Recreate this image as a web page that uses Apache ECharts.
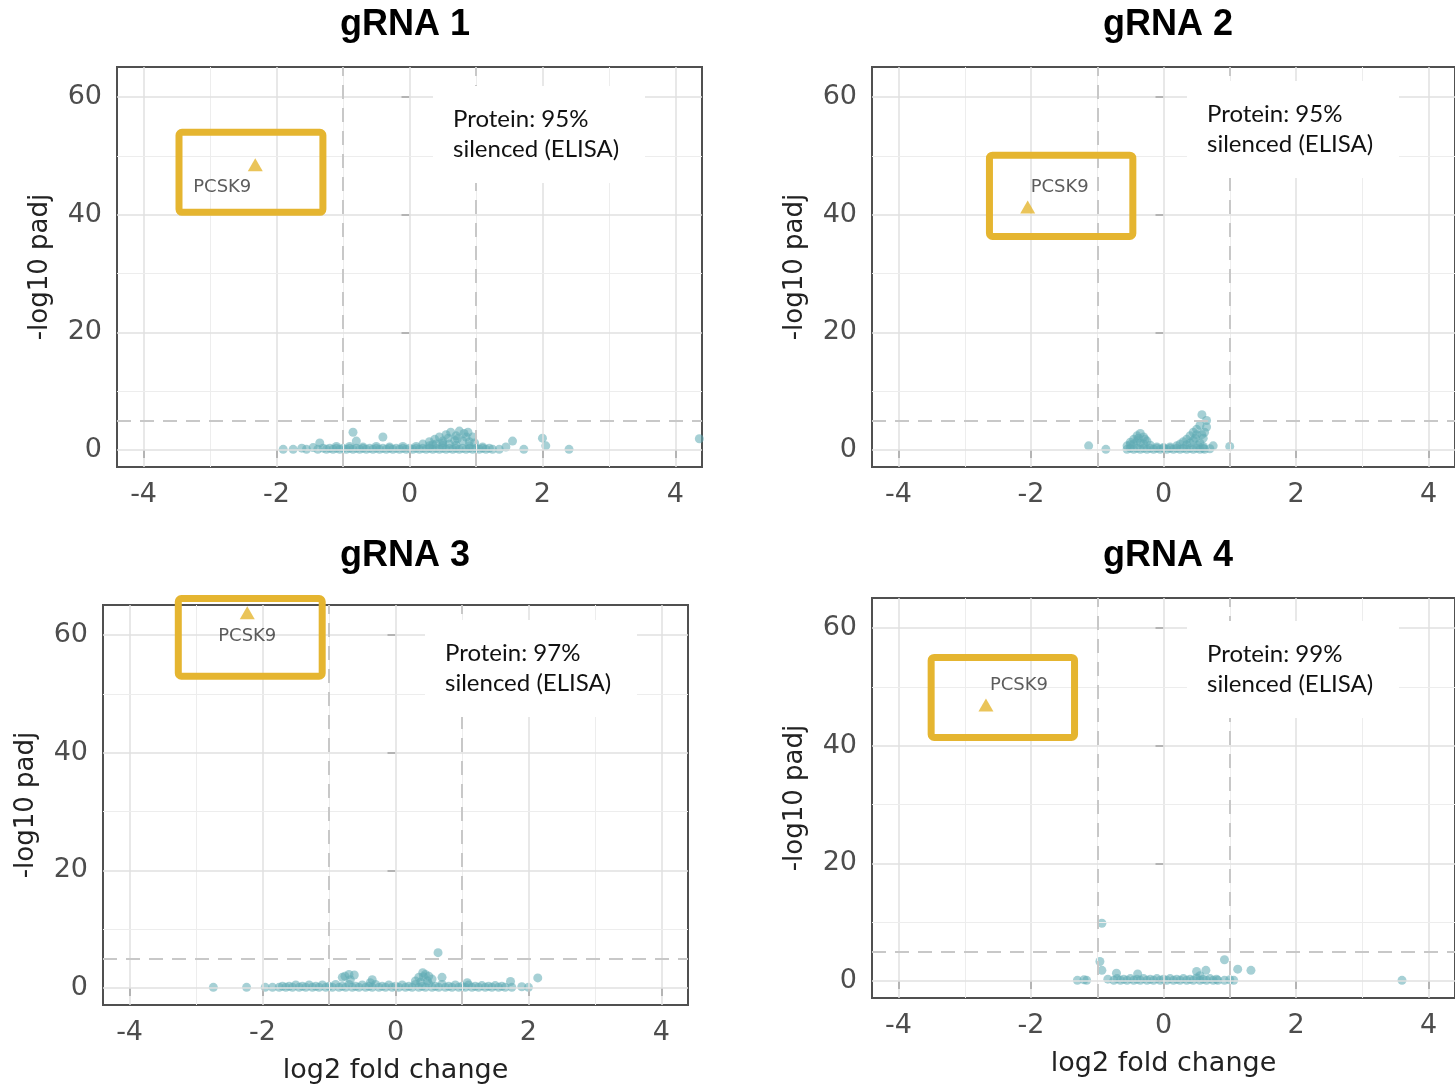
<!DOCTYPE html>
<html>
<head>
<meta charset="utf-8">
<script src="https://cdn.jsdelivr.net/npm/echarts@6/dist/echarts.min.js"></script>
<style>
  html, body { margin: 0; padding: 0; background: #fff; }
  #chart { width: 1455px; height: 1085px; }
</style>
</head>
<body>
<div id="chart"></div>
<script>
// ---- data ----
const panelTitles = ['gRNA 1', 'gRNA 2', 'gRNA 3', 'gRNA 4']
const proteinSilenced = ['95%', '95%', '97%', '99%']
const xTicks = [-4, -2, 0, 2, 4]
const yTicks = [0, 20, 40, 60]
const xGridValues = [-4, -3, -2, -1, 0, 1, 2, 3, 4]
const yGridValues = [0, 10, 20, 30, 40, 50, 60]
const lfcCutoffs = [-1, 1]
const padjCutoff = 5

// PCSK9 point per panel [log2FC, -log10 padj]
const pcsk9 = [[-2.32, 48.5], [-2.05, 41.3], [-2.23, 63.8], [-2.68, 46.9]]

// highlight boxes around PCSK9, data-space corners [x0, y0], [x1, y1]
const highlightBoxes = [
  [[-3.52, 54.6], [-1.25, 39.8]],
  [[-2.68, 50.7], [-0.41, 35.7]],
  [[-3.32, 66.8], [-1.05, 52.4]],
  [[-3.56, 55.6], [-1.29, 40.8]]
]

const g1Genes = [
  [-1.9, 0.1], [-1.75, 0.1], [-1.62, 0.3], [-1.55, 0.1], [-1.45, 0.4], [-1.38, 0.1], [-1.35, 1.2], [-1.3, 0.3],
  [-1.25, 0.1], [-1.15, 0.1], [-1.05, 0.1], [-0.95, 0.1], [-0.85, 0.1], [-0.75, 0.1], [-0.65, 0.1], [-0.55, 0.1],
  [-0.45, 0.1], [-0.35, 0.1], [-0.25, 0.1], [-0.15, 0.1], [-0.05, 0.1], [0.05, 0.1], [0.15, 0.1], [0.25, 0.1],
  [0.35, 0.1], [0.45, 0.1], [0.55, 0.1], [0.65, 0.1], [0.75, 0.1], [0.85, 0.1], [0.95, 0.1], [1.05, 0.1],
  [1.15, 0.1], [1.25, 0.1], [1.35, 0.1],
  [-1.2, 0.3], [-1.1, 0.3], [-1.0, 0.3], [-0.9, 0.3], [-0.8, 0.3], [-0.7, 0.3], [-0.6, 0.3], [-0.5, 0.3],
  [-0.4, 0.3], [-0.3, 0.3], [-0.2, 0.3], [-0.1, 0.3], [0.0, 0.3], [0.1, 0.3], [0.2, 0.3], [0.3, 0.3],
  [0.4, 0.3], [0.5, 0.3], [0.6, 0.3], [0.7, 0.3], [0.8, 0.3], [0.9, 0.3], [1.0, 0.3], [1.1, 0.3], [1.2, 0.3],
  [-1.1, 0.6], [-0.9, 0.6], [-0.7, 0.5], [-0.5, 0.6], [-0.3, 0.5], [-0.1, 0.6], [0.1, 0.6], [0.3, 0.7],
  [0.5, 0.8], [0.7, 0.8], [0.9, 0.7], [1.1, 0.5],
  [0.2, 1.0], [0.3, 1.4], [0.38, 1.8], [0.45, 2.2], [0.5, 1.5], [0.55, 2.6], [0.62, 3.0], [0.7, 2.4],
  [0.75, 3.2], [0.82, 2.8], [0.88, 3.0], [0.95, 2.2], [0.98, 1.2], [0.6, 1.0], [0.8, 1.5], [0.4, 1.0],
  [0.5, 1.2], [0.68, 1.6], [0.72, 1.9], [0.9, 1.4], [0.35, 0.9], [0.58, 2.0], [0.85, 2.2],
  [-0.85, 3.0], [-0.8, 1.5], [-0.4, 2.2], [1.55, 1.5], [2.0, 2.0], [2.05, 0.7], [1.72, 0.1], [2.4, 0.1],
  [1.45, 0.5], [4.36, 1.9]
]

const g2Genes = [
  [-0.55, 0.1], [-0.45, 0.1], [-0.35, 0.1], [-0.25, 0.1], [-0.15, 0.1], [-0.05, 0.1], [0.05, 0.1], [0.15, 0.1],
  [0.25, 0.1], [0.35, 0.1], [0.45, 0.1], [0.55, 0.1], [0.62, 0.1],
  [-0.5, 0.3], [-0.4, 0.3], [-0.3, 0.3], [-0.2, 0.3], [-0.1, 0.3], [0.0, 0.3], [0.1, 0.3], [0.2, 0.3],
  [0.3, 0.3], [0.4, 0.3], [0.5, 0.3], [0.6, 0.3],
  [-0.55, 0.7], [-0.5, 1.3], [-0.45, 1.8], [-0.4, 2.4], [-0.35, 2.8], [-0.3, 2.2], [-0.25, 1.5], [-0.2, 0.8],
  [-0.45, 1.0], [-0.35, 1.2], [-0.5, 0.9], [-0.4, 1.5], [-0.3, 1.0], [-0.38, 2.0], [-0.28, 1.8],
  [-0.1, 0.5], [0.0, 0.4], [0.1, 0.5], [0.2, 0.7],
  [0.25, 1.0], [0.3, 1.4], [0.35, 1.8], [0.4, 2.4], [0.45, 3.0], [0.5, 3.5], [0.55, 4.2], [0.48, 2.0],
  [0.55, 1.2], [0.6, 2.0], [0.62, 3.0], [0.58, 6.0], [0.65, 3.9], [0.65, 5.0], [0.75, 0.7], [0.7, 0.2],
  [0.4, 1.2], [0.45, 1.6], [0.5, 2.6], [0.35, 0.9], [0.52, 0.8], [0.58, 2.6], [0.6, 0.6],
  [-1.13, 0.7], [-0.87, 0.1], [1.0, 0.6]
]

const g3Genes = [
  [-2.74, 0.1], [-2.24, 0.1], [-1.96, 0.1], [-1.85, 0.1],
  [-1.75, 0.1], [-1.65, 0.1], [-1.55, 0.1], [-1.45, 0.1], [-1.35, 0.1], [-1.25, 0.1], [-1.15, 0.1], [-1.05, 0.1],
  [-0.95, 0.1], [-0.85, 0.1], [-0.75, 0.1], [-0.65, 0.1], [-0.55, 0.1], [-0.45, 0.1], [-0.35, 0.1], [-0.25, 0.1],
  [-0.15, 0.1], [-0.05, 0.1], [0.05, 0.1], [0.15, 0.1], [0.25, 0.1], [0.35, 0.1], [0.45, 0.1], [0.55, 0.1],
  [0.65, 0.1], [0.75, 0.1], [0.85, 0.1], [0.95, 0.1], [1.05, 0.1], [1.15, 0.1], [1.25, 0.1], [1.35, 0.1],
  [1.45, 0.1], [1.55, 0.1], [1.65, 0.1], [1.75, 0.1],
  [-1.7, 0.3], [-1.6, 0.3], [-1.4, 0.3], [-1.2, 0.3], [-1.0, 0.3], [-0.8, 0.3], [-0.6, 0.3], [-0.4, 0.3],
  [-0.2, 0.3], [0.0, 0.3], [0.2, 0.3], [0.4, 0.3], [0.6, 0.3], [0.8, 0.3], [1.0, 0.3], [1.2, 0.3],
  [1.4, 0.3], [1.6, 0.3],
  [-1.5, 0.5], [-1.3, 0.5], [-1.1, 0.5], [-0.9, 0.6], [-0.7, 0.6], [-0.5, 0.5], [-0.3, 0.6], [-0.1, 0.5],
  [0.1, 0.5], [0.3, 0.6], [0.5, 0.7], [0.7, 0.6], [0.9, 0.5], [1.1, 0.5], [1.3, 0.4], [1.5, 0.4],
  [-0.8, 1.8], [-0.76, 2.0], [-0.7, 2.3], [-0.62, 2.2], [-0.68, 1.4], [-0.35, 1.4], [-0.38, 0.9],
  [0.3, 1.2], [0.35, 1.8], [0.41, 2.6], [0.45, 2.3], [0.5, 2.0], [0.55, 1.5], [0.7, 1.8], [0.64, 6.0],
  [0.38, 1.0], [0.48, 1.2], [0.42, 1.9],
  [1.08, 0.9], [1.73, 1.1], [2.14, 1.7], [2.0, 0.1], [1.9, 0.2]
]

const g4Genes = [
  [-0.75, 0.1], [-0.65, 0.1], [-0.55, 0.1], [-0.45, 0.1], [-0.35, 0.1], [-0.25, 0.1], [-0.15, 0.1], [-0.05, 0.1],
  [0.05, 0.1], [0.15, 0.1], [0.25, 0.1], [0.35, 0.1], [0.45, 0.1], [0.55, 0.1], [0.65, 0.1], [0.75, 0.1], [0.82, 0.1],
  [-0.7, 0.4], [-0.6, 0.3], [-0.5, 0.4], [-0.4, 0.3], [-0.3, 0.4], [-0.2, 0.3], [-0.1, 0.4], [0.0, 0.3],
  [0.1, 0.4], [0.2, 0.3], [0.3, 0.4], [0.4, 0.3], [0.5, 0.5], [0.6, 0.3], [0.7, 0.4], [0.8, 0.3],
  [-1.3, 0.1], [-1.16, 0.1], [-1.2, 0.2], [-0.93, 9.8], [-0.96, 3.3], [-0.93, 1.8], [-0.84, 0.3], [-0.71, 1.3],
  [-0.39, 1.2], [0.5, 1.6], [0.64, 1.8], [0.55, 0.9], [0.92, 3.6], [1.12, 2.0], [1.32, 1.8], [0.92, 0.1],
  [1.06, 0.1], [1.0, 0.2], [3.6, 0.1]
]

const genes = [g1Genes, g2Genes, g3Genes, g4Genes]

// ---- layout ----
const gridRects = [
  { left: 117, top: 67, width: 585, height: 400 },
  { left: 872, top: 67, width: 585, height: 400 },
  { left: 103, top: 605, width: 585, height: 400 },
  { left: 872, top: 598, width: 585, height: 400 }
]
const titlePos = [[405, 25], [1168, 25], [405, 556], [1168, 556]]
const notePos = [[433, 86], [1187, 81], [425, 620], [1187, 621]]
const pcskLabelOffset = [[-33, 23], [32, -20], [0, 24], [33, -20]]

const axisFont = 'DejaVu Sans'
const teal = 'rgba(96, 172, 180, 0.7)'
const gold = '#e5b530'

const chartDom = document.getElementById('chart')
const chart = echarts.init(chartDom)

const gridLineData = () => {
  const major = { color: '#e0e0e0', width: 1.5, type: 'solid' }
  const minor = { color: '#ededed', width: 1, type: 'solid' }
  const dashed = { color: '#c8c8c8', width: 2, type: [14, 9] }
  const lines = []
  xGridValues.forEach(v => lines.push({ xAxis: v, lineStyle: v % 2 === 0 ? major : minor }))
  yGridValues.forEach(v => lines.push({ yAxis: v, lineStyle: v % 20 === 0 ? major : minor }))
  lfcCutoffs.forEach(v => lines.push({ xAxis: v, lineStyle: dashed }))
  lines.push({ yAxis: padjCutoff, lineStyle: dashed })
  return lines
}

const grids = gridRects.map(r => ({
  ...r,
  show: true,
  backgroundColor: 'transparent',
  borderColor: '#505050',
  borderWidth: 2
}))

const xAxes = gridRects.map((r, i) => ({
  type: 'value',
  gridIndex: i,
  min: -4.4,
  max: 4.4,
  name: i >= 2 ? 'log2 fold change' : '',
  nameLocation: 'middle',
  nameGap: 52,
  nameTextStyle: { fontFamily: axisFont, fontSize: 27, color: '#222' },
  axisLine: { show: false },
  axisTick: { show: true, customValues: xTicks, length: 8, lineStyle: { color: '#333', width: 2 } },
  axisLabel: { customValues: xTicks, fontFamily: axisFont, fontSize: 27, color: '#4d4d4d', margin: 14 },
  splitLine: { show: false }
}))

const yAxes = gridRects.map((r, i) => ({
  type: 'value',
  gridIndex: i,
  min: -2.9,
  max: 65.1,
  name: '-log10 padj',
  nameLocation: 'middle',
  nameGap: 64,
  nameTextStyle: { fontFamily: axisFont, fontSize: 26, color: '#222' },
  axisLine: { show: false },
  axisTick: { show: true, customValues: yTicks, length: 8, lineStyle: { color: '#333', width: 2 } },
  axisLabel: { customValues: yTicks, fontFamily: axisFont, fontSize: 27, color: '#4d4d4d', margin: 15 },
  splitLine: { show: false }
}))

const series = []
genes.forEach((pts, i) => {
  series.push({
    type: 'scatter',
    xAxisIndex: i,
    yAxisIndex: i,
    data: [],
    z: 1,
    silent: true,
    markLine: {
      silent: true,
      symbol: ['none', 'none'],
      label: { show: false },
      animation: false,
      data: gridLineData()
    }
  })
  series.push({
    type: 'scatter',
    xAxisIndex: i,
    yAxisIndex: i,
    data: pts,
    z: 3,
    symbolSize: 9,
    itemStyle: { color: teal },
    clip: true
  })
  series.push({
    type: 'scatter',
    xAxisIndex: i,
    yAxisIndex: i,
    data: [pcsk9[i]],
    z: 5,
    symbol: 'triangle',
    symbolSize: [15, 13],
    itemStyle: { color: gold },
    clip: false,
    label: {
      show: true,
      formatter: 'PCSK9',
      position: 'inside',
      offset: pcskLabelOffset[i],
      fontFamily: axisFont,
      fontSize: 18,
      color: '#333'
    }
  })
})

chart.setOption({
  animation: false,
  grid: grids,
  xAxis: xAxes,
  yAxis: yAxes,
  series
})

// annotations placed after the axes exist so boxes follow the data scale
const graphic = []
panelTitles.forEach((t, i) => {
  graphic.push({
    type: 'text',
    x: titlePos[i][0],
    y: titlePos[i][1],
    z: 20,
    style: {
      text: t,
      font: 'bold 36px "Liberation Sans", Arial, sans-serif',
      fill: '#000',
      align: 'center',
      verticalAlign: 'middle',
      textAlign: 'center',
      textVerticalAlign: 'middle'
    }
  })
})
notePos.forEach((p, i) => {
  graphic.push({
    type: 'rect',
    z: 10,
    shape: { x: p[0], y: p[1], width: 212, height: 97 },
    style: { fill: '#fff' }
  })
  graphic.push({
    type: 'text',
    z: 11,
    x: p[0] + 20,
    y: p[1] + 18,
    style: {
      text: 'Protein: ' + proteinSilenced[i] + '\nsilenced (ELISA)',
      font: '24px Lato, sans-serif',
      lineHeight: 30,
      fill: '#111'
    }
  })
})
highlightBoxes.forEach((b, i) => {
  const p0 = chart.convertToPixel({ gridIndex: i }, b[0])
  const p1 = chart.convertToPixel({ gridIndex: i }, b[1])
  graphic.push({
    type: 'rect',
    z: 12,
    shape: {
      x: Math.min(p0[0], p1[0]) + 3.5,
      y: Math.min(p0[1], p1[1]) + 3.5,
      width: Math.abs(p1[0] - p0[0]) - 7,
      height: Math.abs(p1[1] - p0[1]) - 7,
      r: 3
    },
    style: { fill: 'none', stroke: gold, lineWidth: 7 }
  })
})
chart.setOption({ graphic })

window.addEventListener('resize', () => chart.resize())
</script>
</body>
</html>
